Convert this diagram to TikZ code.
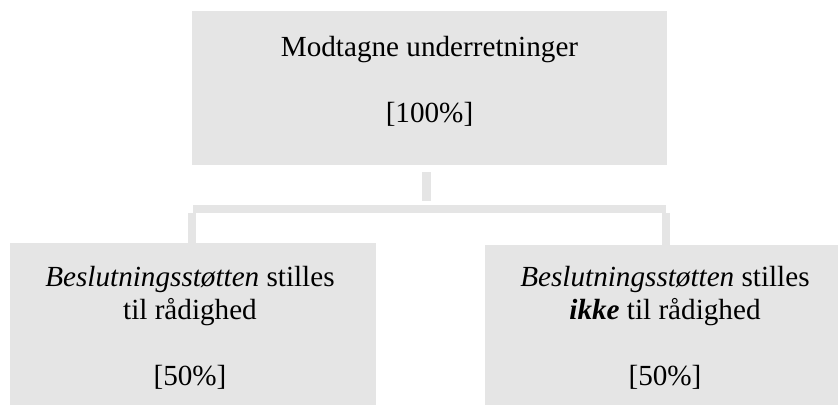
\documentclass[tikz,border=0pt]{standalone}
\usepackage{fontspec}
\setmainfont{Liberation Serif}
\usepackage{tikz}
\usetikzlibrary{positioning}
\definecolor{boxgray}{RGB}{229,229,229}

\begin{document}
\begin{tikzpicture}[
	box/.style={rectangle, fill=boxgray, draw=none, inner sep=0pt},
	txt/.style={align=center, inner sep=0pt, font=\fontsize{16.6}{18.8}\selectfont},
	link/.style={boxgray, line width=0.17cm}
	]
	\useasboundingbox (0, 0) rectangle (16.76, 8.1);

	% the three boxes
	\node (top) [box, minimum width=9.5cm, minimum height=3.08cm] at (8.59, 6.34) {};
	\node (left) [box, minimum width=7.32cm, minimum height=3.24cm] at (3.86, 1.62) {};
	\node (right) [box, minimum width=7.06cm, minimum height=3.2cm] at (13.23, 1.6) {};

	\node (toptxt) [txt] at ([yshift=0.14cm]top.center) {Modtagne underretninger\\[18.8pt]{[100\%]}};
	\node (lefttxt) [txt] at ([xshift=-0.06cm, yshift=-0.07cm]left.center) {\textit{Beslutningsstøtten} stilles\\til rådighed\\[18.8pt]{[50\%]}};
	\node (righttxt) [txt] at ([xshift=0.07cm, yshift=-0.05cm]right.center) {\textit{Beslutningsstøtten} stilles\\\textbf{\textit{ikke}} til rådighed\\[18.8pt]{[50\%]}};

	% connectors
	\coordinate (bl) at (3.84, 3.92);
	\coordinate (br) at (13.32, 3.92);

	\draw [link] ([xshift=-0.06cm, yshift=-0.14cm]top.south) -- ++(0, -0.58);
	\draw [link] ([xshift=0.02cm]bl) -- (br);
	\draw [link] ([yshift=-0.08cm]bl) -- (bl |- left.north);
	\draw [link] ([yshift=-0.08cm]br) -- (br |- right.north);

\end{tikzpicture}
\end{document}
